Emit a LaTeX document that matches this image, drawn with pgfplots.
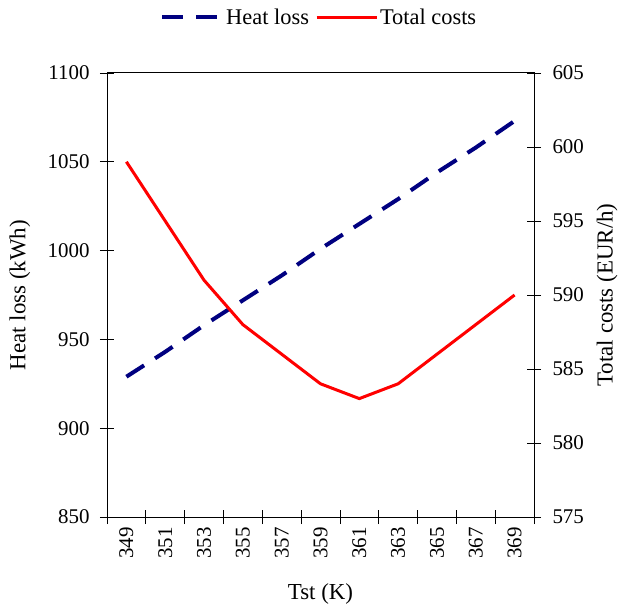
\documentclass[border=0pt]{standalone}
\usepackage{fontspec}
\setmainfont{Liberation Serif}
\usepackage{pgfplots}
\pgfplotsset{compat=1.18}

\definecolor{heatblue}{RGB}{0,0,128}
\definecolor{costred}{RGB}{255,0,0}

\pgfplotsset{
  common/.style={
    at={(0,0)}, anchor=south west,
    width=427bp, height=444bp, scale only axis,
    xmin=-0.5, xmax=10.5,
    tick align=center,
    major tick length=14bp,
    xtick style={draw=black, line width=0.8pt},
    ytick style={draw=black, line width=0.8pt},
    /pgf/number format/assume math mode=true,
    /pgf/number format/1000 sep={},
    tick label style={font=\fontsize{21}{25}\selectfont},
    label style={font=\fontsize{23}{27}\selectfont},
    axis line style={black, line width=1pt},
  },
}

\begin{document}
\begin{tikzpicture}
\useasboundingbox (-107bp,-91bp) rectangle (511bp,517bp);
\begin{axis}[
  common,
  ymin=850, ymax=1100, ytick={850,900,...,1100},
  xtick={-0.5,0.5,...,10.5},
  x tick label as interval,
  xticklabels={349,351,353,355,357,359,361,363,365,367,369},
  xtick pos=bottom, ytick pos=left,
  xticklabel style={rotate=90, anchor=east},
  yticklabel style={xshift=-7bp},
  xlabel={Tst (K)},
  xlabel style={at={(axis description cs:0.5,-0.173)}, anchor=center},
  ylabel={Heat loss (kWh)},
  ylabel style={at={(axis description cs:-0.204,0.5)}, anchor=center},
  legend columns=2,
  legend style={draw=none, at={(0.497,1.126)}, anchor=center,
    font=\fontsize{22.5}{26}\selectfont,
    /tikz/every even column/.append style={column sep=4bp}},
  legend image code/.code={\draw[#1] (0bp,0bp) -- (60bp,0bp);},
]
\addplot[heatblue, line width=4bp, dash pattern=on 21bp off 13bp] coordinates {
(0,929) (1,943) (2,958) (3,972) (4,986) (5,1001)
(6,1015) (7,1029) (8,1044) (9,1058) (10,1073)
};
\addlegendentry{Heat loss}
\addlegendimage{costred, line width=3bp}
\addlegendentry{Total costs}
\end{axis}
\begin{axis}[
  common,
  axis y line*=right, axis x line=none,
  ymin=575, ymax=605, ytick={575,580,...,605},
  yticklabel style={xshift=8bp},
  ylabel={Total costs (EUR/h)},
  ylabel style={at={(axis description cs:1.171,0.5)}, anchor=center},
]
\addplot[costred, line width=3bp] coordinates {
(0,599) (1,595) (2,591) (3,588) (4,586) (5,584)
(6,583) (7,584) (8,586) (9,588) (10,590)
};
\end{axis}
\end{tikzpicture}
\end{document}
